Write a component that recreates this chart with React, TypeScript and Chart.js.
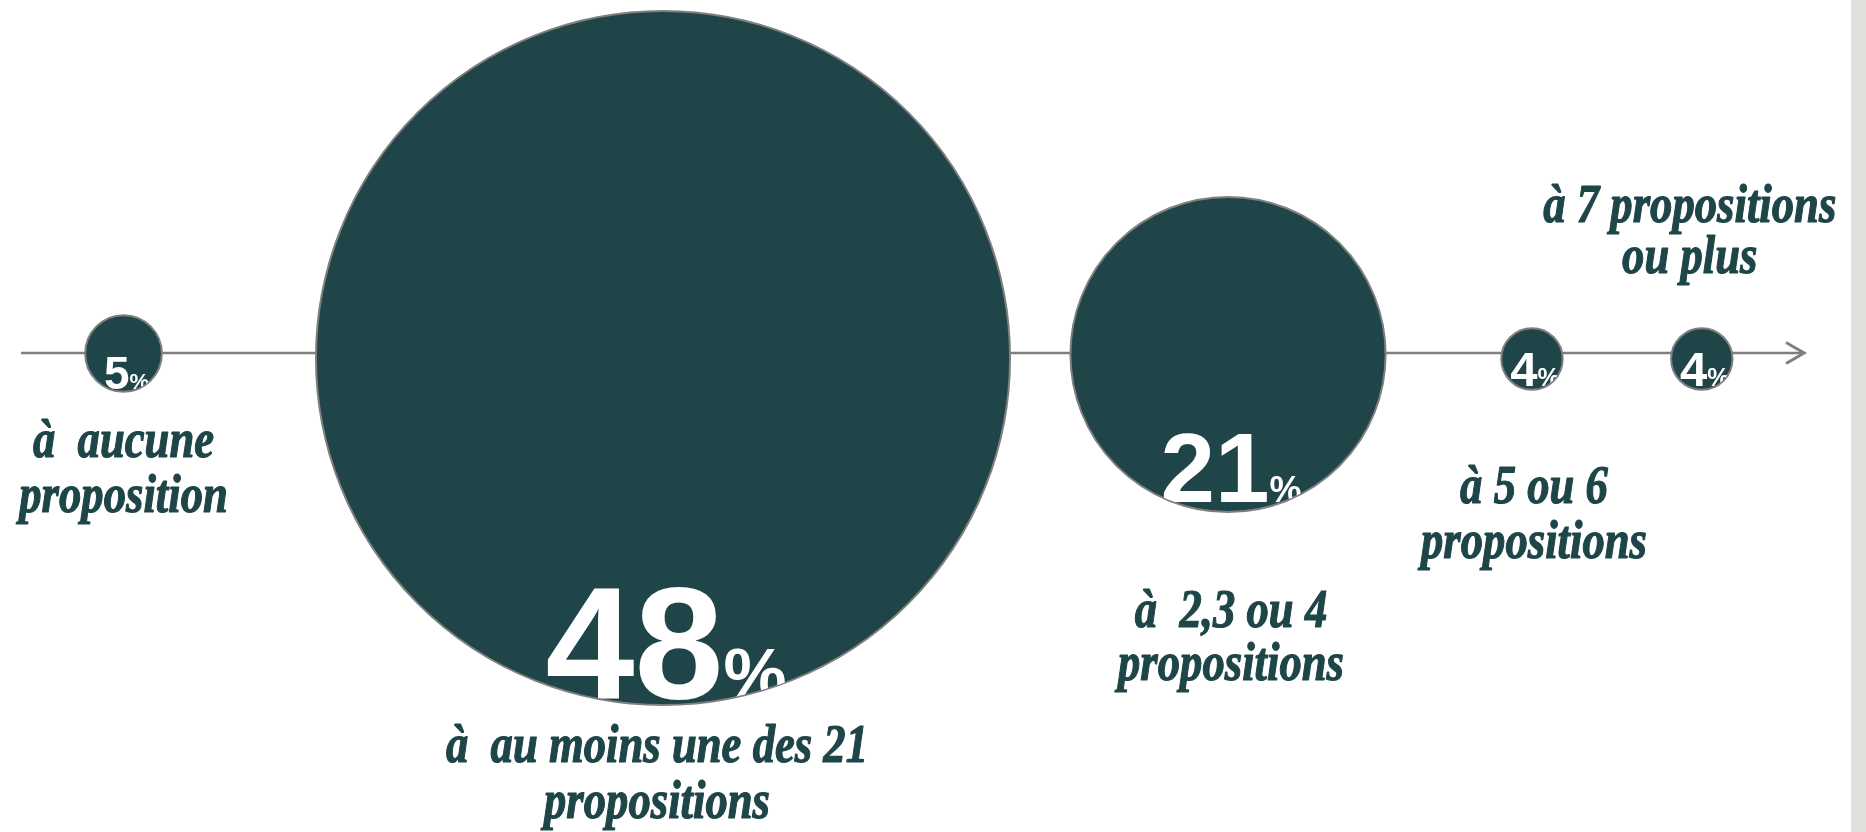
import { useEffect, useRef } from "react";
import { Chart, registerables } from "chart.js";

Chart.register(...registerables);

// ---- data ----
const categories: string[][] = [
  ["à  aucune", "proposition"],
  ["à  au moins une des 21", "propositions"],
  ["à  2,3 ou 4", "propositions"],
  ["à 5 ou 6", "propositions"],
  ["à 7 propositions", "ou plus"],
];
const values: number[] = [5, 48, 21, 4, 4];
// position of each bubble along the timeline (0–100)
const timelinePos: number[] = [6.62, 35.53, 65.81, 82.1, 91.2];
// vertical offset of each bubble from the timeline
const timelineOffset: number[] = [-0.5, -5, -1.5, -6, -6];

// ---- layout / style (not data) ----
const AXIS_START = 1.13;
const AXIS_END = 96.68;
const FILL = "#1f4549";
const BORDER = "#7f7f7f";
const TEXT = "#1e4548";
const NUM_FONT = [46, 160, 98, 49, 49];
const PCT_FONT = [22, 71, 36, 25, 25];
const NUM_BASELINE = [35.5, 340, 147.5, 26.5, 26.5];
const LABEL_DX = [0, -6, 3, 2, -12];
const LABEL_DY: number[][] = [
  [103.5, 158.5],
  [404, 460],
  [272.5, 325.5],
  [144, 199],
  [-137, -86],
];
const LABEL_FONT = 'italic bold 54px "Liberation Serif"';

const radiusFor = (v: number) => 7.716 * v - 0.01013 * v * v;

const overlay = {
  id: "overlay",
  beforeDatasetsDraw(chart: any) {
    const { ctx, scales } = chart;
    const x = scales.x;
    const y = scales.y;
    const y0 = y.getPixelForValue(0);
    const x0 = x.getPixelForValue(AXIS_START);
    const x1 = x.getPixelForValue(AXIS_END);
    ctx.save();
    ctx.strokeStyle = BORDER;
    ctx.lineWidth = 2.5;
    ctx.beginPath();
    ctx.moveTo(x0, y0);
    ctx.lineTo(x1, y0);
    ctx.stroke();
    ctx.lineWidth = 3;
    ctx.beginPath();
    ctx.moveTo(x1 - 18, y0 - 10.5);
    ctx.lineTo(x1, y0);
    ctx.lineTo(x1 - 18, y0 + 10.5);
    ctx.stroke();
    ctx.restore();
  },
  afterDatasetsDraw(chart: any) {
    const { ctx } = chart;
    const meta = chart.getDatasetMeta(0);
    ctx.save();
    ctx.font = LABEL_FONT;
    const sx = 226 / ctx.measureText("propositions").width;
    ctx.restore();
    meta.data.forEach((el: any, i: number) => {
      const cx = el.x;
      const cy = el.y;
      const r = radiusFor(values[i]);
      // percentage, clipped to the bubble
      ctx.save();
      ctx.beginPath();
      ctx.arc(cx, cy, r - 0.5, 0, Math.PI * 2);
      ctx.clip();
      ctx.fillStyle = "#ffffff";
      ctx.textBaseline = "alphabetic";
      ctx.textAlign = "left";
      const numStr = String(values[i]);
      ctx.font = `bold ${NUM_FONT[i]}px "Liberation Sans"`;
      const wNum = ctx.measureText(numStr).width;
      ctx.font = `bold ${PCT_FONT[i]}px "Liberation Sans"`;
      const wPct = ctx.measureText("%").width;
      const start = cx + 3 - (wNum + wPct) / 2;
      const base = cy + NUM_BASELINE[i];
      ctx.font = `bold ${NUM_FONT[i]}px "Liberation Sans"`;
      ctx.fillText(numStr, start, base);
      ctx.font = `bold ${PCT_FONT[i]}px "Liberation Sans"`;
      ctx.fillText("%", start + wNum, base);
      ctx.restore();

      // category label
      ctx.save();
      ctx.font = LABEL_FONT;
      ctx.fillStyle = TEXT;
      ctx.strokeStyle = TEXT;
      ctx.lineWidth = 1.2;
      ctx.lineJoin = "round";
      ctx.textAlign = "center";
      ctx.textBaseline = "alphabetic";
      categories[i].forEach((line, j) => {
        ctx.save();
        ctx.translate(cx + LABEL_DX[i], cy + LABEL_DY[i][j]);
        ctx.scale(sx, 1);
        ctx.fillText(line, 0, 0);
        ctx.strokeText(line, 0, 0);
        ctx.restore();
      });
      ctx.restore();
    });
  },
};

export default function App() {
  const ref = useRef<HTMLCanvasElement | null>(null);
  useEffect(() => {
    if (!ref.current) return;
    const chart = new Chart(ref.current, {
      type: "bubble",
      data: {
        datasets: [
          {
            data: values.map((v, i) => ({
              x: timelinePos[i],
              y: timelineOffset[i],
              r: radiusFor(v),
            })),
            backgroundColor: FILL,
            borderColor: BORDER,
            borderWidth: 2,
            hoverRadius: 0,
            clip: false as any,
          },
        ],
      },
      options: {
        animation: false,
        responsive: false,
        events: [],
        layout: { padding: 0, autoPadding: false } as any,
        plugins: {
          legend: { display: false },
          tooltip: { enabled: false },
          title: { display: false },
        },
        scales: {
          x: { type: "linear", min: 0, max: 100, display: false },
          y: { type: "linear", min: -479, max: 353, display: false },
        },
      },
      plugins: [overlay],
    });
    return () => chart.destroy();
  }, []);
  return (
    <div
      style={{
        position: "fixed",
        left: 0,
        top: 0,
        width: 1866,
        height: 832,
        background: "#ffffff",
        overflow: "hidden",
      }}
    >
      <canvas ref={ref} width={1866} height={832} style={{ display: "block" }} />
      <div
        style={{
          position: "absolute",
          left: 1851,
          top: 0,
          width: 15,
          height: 832,
          background: "#dfe0da",
        }}
      />
    </div>
  );
}
